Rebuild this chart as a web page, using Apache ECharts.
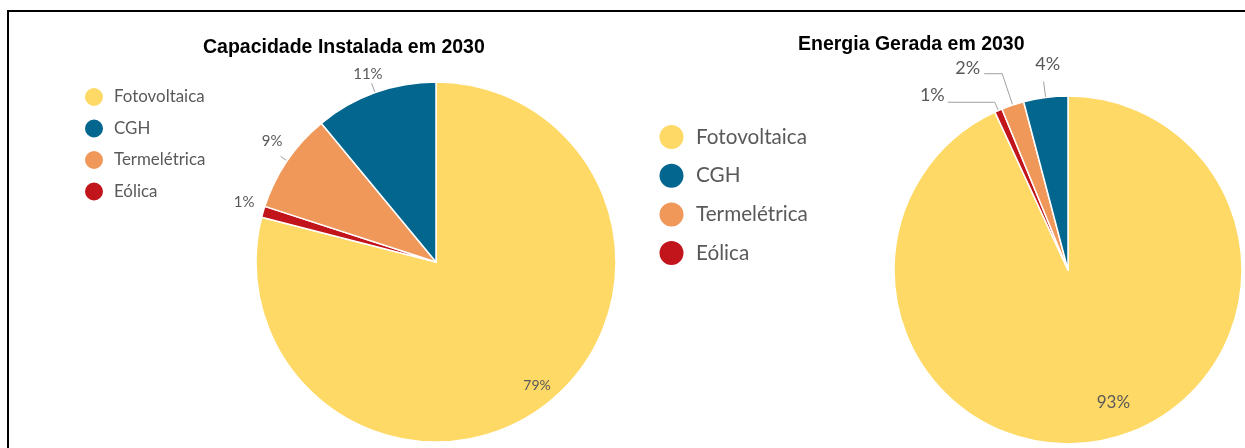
<!DOCTYPE html>
<html><head><meta charset="utf-8">
<script src="https://cdn.jsdelivr.net/npm/echarts@6/dist/echarts.min.js"></script>
<style>html,body{margin:0;padding:0;background:#fff}#c{width:1245px;height:448px}</style>
</head><body><div id="c"></div>
<script>
// ---- data ----
const categories = ['Fotovoltaica', 'CGH', 'Termelétrica', 'Eólica'];
const capacidade = [79, 11, 9, 1];
const energia = [93.1, 4.1, 2.1, 0.7];
const titles = ['Capacidade Instalada em 2030', 'Energia Gerada em 2030'];

// ---- style ----
const colors = ['#FED966', '#03668E', '#F0985A', '#C1141B'];
const drawOrder = [0, 3, 2, 1]; // clockwise from 12 o'clock
// per-category label styling: [dx, dy, showLine, length, length2]
const labelStyle1 = {
  'Fotovoltaica': [44, 50, false, 0, 0],
  'CGH': [14, -9, true, 10, 0],
  'Termelétrica': [5, -15, true, 8, 0],
  'Eólica': [10, -7, false, 10, 6]
};
const labelStyle2 = {
  'Fotovoltaica': [26, 45, false, 0, 0],
  'CGH': [19.5, -17.5, true, 16, 0],
  'Termelétrica': [-1, -6, true, 33, 18],
  'Eólica': [0, -7, true, 9, 47]
};

function buildData(values, styleMap, insideSize) {
  return drawOrder.map(i => {
    const name = categories[i];
    const s = styleMap[name];
    const inside = i === 0;
    const label = { position: inside ? 'inside' : 'outside' };
    if (inside) label.fontSize = insideSize;
    return {
      name: name,
      value: values[i],
      itemStyle: { color: colors[i] },
      label: label,
      labelLine: { show: s[2], length: s[3], length2: s[4] }
    };
  });
}

function pieSeries(values, center, radius, fontSize, insideSize, styleMap) {
  return {
    type: 'pie',
    center: center,
    radius: radius,
    startAngle: 90,
    clockwise: true,
    percentPrecision: 0,
    avoidLabelOverlap: false,
    itemStyle: { borderColor: '#fff', borderWidth: 1.5 },
    label: {
      formatter: '{d}%',
      color: '#595959',
      fontFamily: 'Lato',
      fontSize: fontSize,
      distanceToLabelLine: 3
    },
    labelLine: { lineStyle: { color: '#A0A0A0', width: 1 } },
    labelLayout: function (p) {
      const s = styleMap[categories[drawOrder[p.dataIndex]]];
      return { dx: s[0], dy: s[1] };
    },
    emphasis: { disabled: true },
    data: buildData(values, styleMap, insideSize)
  };
}

const chart = echarts.init(document.getElementById('c'));
chart.setOption({
  animation: false,
  title: [
    { text: titles[0], left: 198, top: 33, textStyle: { fontFamily: 'Liberation Sans', fontWeight: 'bold', fontSize: 19.5, color: '#000' } },
    { text: titles[1], left: 793, top: 30, textStyle: { fontFamily: 'Liberation Sans', fontWeight: 'bold', fontSize: 19.5, color: '#000' } }
  ],
  legend: [
    {
      data: categories, orient: 'vertical', left: 78, top: 81, icon: 'circle',
      itemWidth: 20, itemHeight: 20, itemGap: 9.5,
      textStyle: { fontFamily: 'Lato', fontSize: 16.9, color: '#595959', padding: [0, 0, 0, 5] }
    },
    {
      data: categories, orient: 'vertical', left: 652.5, top: 118, icon: 'circle',
      itemWidth: 26, itemHeight: 26, itemGap: 10.7,
      textStyle: { fontFamily: 'Lato', fontSize: 20.7, color: '#595959', padding: [0, 0, 0, 6.5] }
    }
  ],
  graphic: [
    { type: 'polyline', shape: { points: [[8, 448], [8, 11], [1245, 11]] }, style: { stroke: '#000', lineWidth: 2, fill: null } }
  ],
  series: [
    pieSeries(capacidade, [436, 262], 180, 15, 14, labelStyle1),
    pieSeries(energia, [1068, 270], 174, 18, 17, labelStyle2)
  ]
});
</script></body></html>
